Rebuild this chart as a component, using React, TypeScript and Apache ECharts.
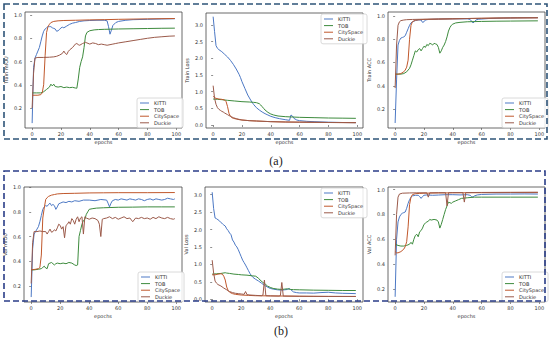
import React, { useEffect, useRef } from "react";
import * as echarts from "echarts";

type P = [number, number][];

const seriesNames = ["KITTI", "TOB", "CitySpace", "Duckie"];
const xTicks = [0, 20, 40, 60, 80, 100];
const accTicks = [0.2, 0.4, 0.6, 0.8, 1.0];
const lossTicks = [0.0, 0.5, 1.0, 1.5, 2.0, 2.5, 3.0];
const panelYNames = ["Train mIOU", "Train Loss", "Train ACC", "Val mIOU", "Val Loss", "Val ACC"];
const captions = ["(a)", "(b)"];

// ---------- Train mIoU ----------
const trainMiouKITTI: P = [[0,0.07],[1,0.55],[2,0.63],[3,0.66],[4,0.69],[5,0.72],[6,0.77],[7,0.82],[8,0.86],[9,0.88],[10,0.89],[11,0.9],[12,0.9],[13,0.9],[14,0.89],[15,0.885],[16,0.88],[17,0.86],[18,0.865],[19,0.875],[20,0.89],[21,0.895],[22,0.89],[24,0.905],[26,0.92],[28,0.93],[30,0.935],[33,0.945],[36,0.95],[40,0.953],[45,0.955],[50,0.955],[52,0.95],[53,0.9],[54,0.835],[55,0.87],[56,0.91],[58,0.935],[60,0.945],[65,0.955],[70,0.96],[80,0.963],[90,0.966],[99,0.968]];
const trainMiouTOB: P = [[0,0.33],[3,0.33],[6,0.33],[8,0.34],[10,0.36],[12,0.38],[13,0.405],[14,0.39],[15,0.405],[16,0.385],[18,0.38],[20,0.385],[22,0.375],[24,0.38],[26,0.375],[28,0.378],[30,0.372],[31,0.37],[32,0.45],[33,0.55],[34,0.6],[35,0.64],[36,0.72],[37,0.82],[38,0.85],[40,0.865],[43,0.872],[46,0.875],[50,0.877],[60,0.88],[70,0.882],[80,0.884],[90,0.886],[99,0.887]];
const trainMiouCity: P = [[0,0.31],[2,0.31],[4,0.31],[6,0.315],[7,0.33],[8,0.4],[9,0.65],[10,0.85],[11,0.9],[12,0.92],[13,0.935],[15,0.945],[18,0.95],[22,0.953],[30,0.955],[40,0.958],[50,0.96],[60,0.963],[70,0.965],[80,0.967],[99,0.97]];
const trainMiouDuckie: P = [[0,0.2],[1,0.5],[2,0.63],[4,0.635],[8,0.635],[12,0.637],[15,0.64],[17,0.645],[19,0.655],[21,0.67],[22,0.69],[23,0.67],[24,0.66],[25,0.685],[26,0.7],[28,0.72],[30,0.75],[31,0.755],[32,0.745],[33,0.74],[35,0.755],[37,0.765],[38,0.76],[40,0.75],[42,0.76],[44,0.755],[46,0.745],[48,0.75],[50,0.745],[52,0.74],[54,0.745],[56,0.75],[58,0.755],[60,0.76],[65,0.77],[70,0.78],[75,0.79],[80,0.8],[85,0.808],[90,0.813],[95,0.818],[99,0.82]];

// ---------- Train Loss ----------
const trainLossKITTI: P = [[0,3.25],[1,2.8],[2,2.38],[3,2.3],[4,2.26],[6,2.2],[8,2.12],[10,2.04],[12,1.94],[14,1.82],[16,1.68],[18,1.52],[19,1.42],[20,1.3],[22,1.1],[24,0.9],[26,0.75],[28,0.62],[30,0.52],[32,0.45],[34,0.39],[36,0.34],[38,0.3],[40,0.26],[43,0.22],[46,0.19],[50,0.16],[53,0.14],[54,0.3],[55,0.27],[56,0.2],[58,0.15],[60,0.13],[65,0.11],[70,0.1],[80,0.085],[90,0.075],[99,0.07]];
const trainLossTOB: P = [[0,0.78],[3,0.77],[6,0.76],[10,0.74],[15,0.72],[20,0.7],[25,0.69],[28,0.68],[30,0.67],[32,0.64],[33,0.6],[34,0.55],[35,0.5],[36,0.45],[38,0.38],[40,0.33],[42,0.3],[45,0.27],[50,0.25],[55,0.24],[60,0.23],[70,0.22],[80,0.21],[90,0.205],[99,0.2]];
const trainLossCity: P = [[0,0.86],[1,0.82],[2,0.8],[4,0.78],[6,0.77],[8,0.75],[9,0.7],[10,0.55],[11,0.35],[12,0.26],[13,0.22],[14,0.2],[16,0.18],[18,0.16],[20,0.15],[25,0.13],[30,0.12],[40,0.1],[50,0.09],[60,0.085],[70,0.08],[80,0.075],[99,0.07]];
const trainLossDuckie: P = [[0,1.18],[1,0.8],[2,0.62],[3,0.52],[4,0.47],[5,0.44],[6,0.41],[7,0.39],[8,0.36],[10,0.31],[12,0.26],[14,0.22],[16,0.19],[18,0.17],[20,0.15],[25,0.13],[30,0.12],[40,0.1],[50,0.09],[60,0.085],[70,0.08],[80,0.075],[99,0.07]];

// ---------- Train ACC ----------
const trainAccKITTI: P = [[0,0.08],[1,0.45],[2,0.75],[3,0.79],[4,0.81],[5,0.815],[6,0.82],[7,0.83],[8,0.86],[9,0.89],[10,0.92],[11,0.94],[12,0.95],[14,0.96],[16,0.965],[18,0.965],[19,0.945],[20,0.95],[21,0.965],[23,0.97],[30,0.973],[40,0.975],[50,0.975],[52,0.97],[53,0.955],[54,0.94],[55,0.95],[56,0.965],[58,0.972],[65,0.978],[75,0.982],[85,0.984],[99,0.985]];
const trainAccTOB: P = [[0,0.5],[2,0.5],[4,0.5],[6,0.505],[8,0.52],[10,0.55],[11,0.58],[12,0.62],[13,0.66],[14,0.7],[15,0.69],[16,0.71],[17,0.72],[18,0.7],[19,0.72],[20,0.74],[21,0.73],[22,0.755],[23,0.745],[24,0.765],[25,0.76],[26,0.75],[27,0.765],[28,0.76],[29,0.755],[30,0.73],[31,0.68],[32,0.7],[33,0.73],[34,0.75],[35,0.78],[36,0.82],[37,0.87],[38,0.9],[39,0.92],[40,0.93],[42,0.94],[45,0.945],[50,0.95],[60,0.953],[70,0.955],[80,0.956],[99,0.958]];
const trainAccCity: P = [[0,0.5],[2,0.5],[4,0.505],[6,0.52],[7,0.535],[8,0.56],[9,0.62],[10,0.8],[11,0.92],[12,0.95],[14,0.963],[17,0.968],[20,0.97],[30,0.973],[40,0.975],[50,0.978],[60,0.98],[70,0.982],[80,0.983],[99,0.984]];
const trainAccDuckie: P = [[0,0.38],[1,0.75],[2,0.92],[3,0.95],[4,0.96],[6,0.965],[8,0.968],[12,0.97],[20,0.972],[30,0.974],[40,0.976],[50,0.978],[60,0.98],[70,0.982],[80,0.983],[99,0.985]];

// ---------- Val mIoU ----------
const valMiouKITTI: P = [[0,0.11],[1,0.5],[2,0.62],[3,0.64],[4,0.66],[5,0.68],[6,0.72],[7,0.77],[8,0.82],[9,0.84],[10,0.85],[11,0.845],[12,0.86],[13,0.87],[14,0.85],[15,0.86],[16,0.85],[17,0.82],[18,0.84],[19,0.865],[20,0.87],[22,0.88],[24,0.875],[26,0.885],[28,0.88],[30,0.89],[33,0.885],[36,0.895],[40,0.895],[44,0.89],[48,0.9],[52,0.895],[53,0.87],[54,0.84],[55,0.87],[56,0.89],[58,0.9],[60,0.895],[62,0.905],[64,0.9],[66,0.895],[68,0.905],[70,0.9],[72,0.895],[74,0.905],[76,0.9],[78,0.89],[80,0.9],[82,0.905],[84,0.895],[86,0.905],[88,0.9],[90,0.895],[92,0.9],[94,0.91],[96,0.905],[98,0.9],[99,0.905]];
const valMiouTOB: P = [[0,0.33],[2,0.33],[5,0.335],[7,0.34],[8,0.35],[9,0.36],[10,0.345],[11,0.34],[12,0.38],[13,0.385],[14,0.39],[15,0.38],[16,0.37],[17,0.38],[18,0.385],[20,0.38],[22,0.385],[24,0.38],[26,0.39],[28,0.385],[30,0.37],[31,0.365],[32,0.37],[33,0.6],[34,0.65],[35,0.7],[36,0.73],[37,0.74],[38,0.78],[39,0.8],[40,0.82],[42,0.825],[45,0.83],[50,0.833],[55,0.835],[60,0.837],[70,0.838],[80,0.84],[90,0.84],[99,0.84]];
const valMiouCity: P = [[0,0.33],[3,0.335],[5,0.34],[6,0.35],[7,0.45],[8,0.75],[9,0.83],[10,0.9],[11,0.915],[12,0.925],[14,0.935],[16,0.94],[18,0.945],[22,0.948],[30,0.95],[40,0.953],[50,0.954],[60,0.955],[80,0.955],[99,0.956]];
const valMiouDuckie: P = [[0,0.22],[1,0.55],[2,0.64],[4,0.64],[6,0.645],[8,0.64],[10,0.64],[11,0.62],[12,0.64],[13,0.66],[14,0.635],[15,0.64],[16,0.655],[17,0.645],[18,0.67],[19,0.7],[20,0.69],[21,0.66],[22,0.68],[23,0.59],[24,0.69],[25,0.7],[26,0.72],[27,0.7],[28,0.745],[29,0.73],[30,0.7],[31,0.74],[32,0.76],[33,0.72],[34,0.75],[35,0.76],[36,0.62],[37,0.76],[38,0.75],[40,0.74],[42,0.75],[44,0.745],[46,0.73],[47,0.7],[48,0.6],[49,0.74],[50,0.745],[52,0.75],[54,0.76],[56,0.745],[58,0.755],[60,0.74],[62,0.75],[64,0.76],[66,0.745],[68,0.75],[70,0.72],[72,0.75],[74,0.745],[76,0.755],[78,0.745],[80,0.75],[82,0.74],[84,0.755],[86,0.745],[88,0.76],[90,0.75],[92,0.745],[94,0.755],[96,0.745],[98,0.74],[99,0.745]];

// ---------- Val Loss ----------
const valLossKITTI: P = [[0,3.07],[1,2.6],[2,2.33],[3,2.31],[4,2.28],[5,2.25],[6,2.2],[7,2.17],[8,2.13],[9,2.1],[10,2.02],[11,1.97],[12,1.9],[13,1.85],[14,1.7],[15,1.64],[16,1.55],[17,1.5],[18,1.42],[19,1.32],[20,1.22],[21,1.12],[22,1.05],[23,0.98],[24,0.9],[25,0.82],[26,0.74],[27,0.68],[28,0.63],[30,0.57],[32,0.52],[34,0.46],[36,0.4],[38,0.35],[40,0.31],[42,0.29],[45,0.27],[48,0.26],[50,0.27],[52,0.28],[53,0.31],[54,0.28],[56,0.21],[58,0.19],[60,0.18],[65,0.18],[70,0.175],[75,0.19],[80,0.2],[85,0.18],[90,0.17],[95,0.165],[99,0.16]];
const valLossTOB: P = [[0,0.72],[3,0.73],[6,0.74],[9,0.76],[10,0.75],[12,0.74],[15,0.72],[18,0.71],[20,0.7],[24,0.69],[28,0.67],[30,0.66],[32,0.6],[33,0.55],[35,0.48],[37,0.42],[38,0.38],[40,0.34],[42,0.31],[45,0.29],[48,0.28],[50,0.29],[52,0.3],[54,0.28],[56,0.275],[60,0.27],[70,0.26],[80,0.255],[90,0.25],[99,0.25]];
const valLossCity: P = [[0,0.7],[2,0.7],[4,0.72],[6,0.73],[7,0.72],[8,0.66],[9,0.55],[10,0.35],[11,0.25],[12,0.2],[14,0.16],[16,0.14],[20,0.12],[25,0.11],[30,0.1],[40,0.095],[50,0.09],[60,0.085],[80,0.08],[99,0.08]];
const valLossDuckie: P = [[0,1.12],[1,0.75],[2,0.52],[3,0.46],[4,0.42],[6,0.38],[8,0.32],[10,0.27],[12,0.22],[14,0.19],[16,0.17],[18,0.16],[20,0.15],[22,0.14],[23,0.22],[24,0.13],[26,0.12],[30,0.11],[34,0.1],[35,0.12],[36,0.55],[37,0.1],[40,0.095],[46,0.09],[47,0.1],[48,0.48],[49,0.09],[55,0.088],[60,0.085],[70,0.082],[80,0.08],[99,0.078]];

// ---------- Val ACC ----------
const valAccKITTI: P = [[0,0.135],[1,0.6],[2,0.74],[3,0.78],[4,0.8],[5,0.81],[6,0.815],[7,0.82],[8,0.85],[9,0.89],[10,0.92],[11,0.94],[12,0.95],[14,0.955],[16,0.955],[17,0.945],[18,0.93],[19,0.945],[20,0.955],[22,0.958],[26,0.955],[30,0.957],[35,0.96],[40,0.96],[45,0.958],[50,0.96],[52,0.955],[53,0.945],[54,0.94],[55,0.95],[57,0.958],[60,0.962],[70,0.965],[80,0.965],[90,0.966],[99,0.965]];
const valAccTOB: P = [[0,0.56],[2,0.55],[4,0.545],[6,0.545],[8,0.55],[10,0.56],[11,0.575],[12,0.56],[13,0.6],[14,0.63],[15,0.64],[16,0.62],[17,0.66],[18,0.67],[19,0.69],[20,0.72],[21,0.73],[22,0.74],[23,0.745],[24,0.76],[25,0.755],[27,0.76],[29,0.755],[30,0.74],[31,0.69],[32,0.72],[33,0.76],[34,0.8],[35,0.84],[36,0.87],[37,0.9],[38,0.895],[39,0.89],[40,0.9],[42,0.91],[44,0.92],[46,0.93],[50,0.935],[55,0.94],[60,0.94],[80,0.94],[99,0.94]];
const valAccCity: P = [[0,0.5],[1,0.49],[2,0.49],[4,0.5],[6,0.52],[7,0.54],[8,0.58],[9,0.7],[10,0.88],[11,0.94],[12,0.96],[14,0.968],[17,0.97],[20,0.972],[30,0.974],[40,0.975],[60,0.976],[80,0.977],[99,0.977]];
const valAccDuckie: P = [[0,0.47],[1,0.8],[2,0.94],[3,0.965],[5,0.972],[10,0.974],[15,0.975],[20,0.975],[22,0.975],[23,0.94],[24,0.975],[30,0.976],[35,0.976],[36,0.87],[37,0.976],[40,0.977],[47,0.977],[48,0.9],[49,0.977],[60,0.978],[80,0.979],[99,0.98]];

const panelData: P[][] = [
  [trainMiouKITTI, trainMiouTOB, trainMiouCity, trainMiouDuckie],
  [trainLossKITTI, trainLossTOB, trainLossCity, trainLossDuckie],
  [trainAccKITTI, trainAccTOB, trainAccCity, trainAccDuckie],
  [valMiouKITTI, valMiouTOB, valMiouCity, valMiouDuckie],
  [valLossKITTI, valLossTOB, valLossCity, valLossDuckie],
  [valAccKITTI, valAccTOB, valAccCity, valAccDuckie],
];

const COLORS = ["#4c78c4", "#3d8b3d", "#c0582c", "#9b5a4a"];
const FONT = "DejaVu Sans";

// layout (pixels)
const panels = [
  { left: 25, top: 12, width: 157, height: 116, yMin: 0.028, yMax: 1.026, ticks: accTicks, legend: { left: 137, top: 98 } },
  { left: 206, top: 13, width: 157, height: 115, yMin: -0.09, yMax: 3.36, ticks: lossTicks, legend: { left: 321, top: 14 } },
  { left: 388, top: 12, width: 157, height: 116, yMin: 0.037, yMax: 1.034, ticks: accTicks, legend: { left: 502, top: 98 } },
  { left: 24, top: 187, width: 158, height: 115, yMin: 0.07, yMax: 1.001, ticks: accTicks, legend: { left: 138, top: 272 } },
  { left: 205, top: 187, width: 158, height: 115, yMin: -0.08, yMax: 3.22, ticks: lossTicks, legend: { left: 321, top: 188 } },
  { left: 388, top: 187, width: 157, height: 115, yMin: 0.093, yMax: 1.022, ticks: accTicks, legend: { left: 502, top: 272 } },
];

export default function App() {
  const ref = useRef<HTMLDivElement>(null);
  useEffect(() => {
    document.body.style.margin = "0";
    const chart = echarts.init(ref.current!, undefined, { renderer: "svg" });
    const grid: any[] = [];
    const xAxis: any[] = [];
    const yAxis: any[] = [];
    const series: any[] = [];
    const legend: any[] = [];
    panels.forEach((p, i) => {
      grid.push({
        left: p.left, top: p.top, width: p.width, height: p.height,
        show: true, borderColor: "#444", borderWidth: 0.8, backgroundColor: "#fff",
      });
      xAxis.push({
        type: "value", gridIndex: i, min: -4.95, max: 103.95,
        name: "epochs", nameLocation: "middle", nameGap: 11,
        nameTextStyle: { fontSize: 5, color: "#333", fontFamily: FONT },
        axisLine: { show: false },
        splitLine: { show: false },
        axisTick: { show: true, length: 2, lineStyle: { color: "#444", width: 0.6 }, customValues: xTicks },
        axisLabel: { fontSize: 5, color: "#333", margin: 3, fontFamily: FONT, customValues: xTicks, formatter: (v: number) => String(v) },
      });
      yAxis.push({
        type: "value", gridIndex: i, min: p.yMin, max: p.yMax,
        name: panelYNames[i], nameLocation: "middle", nameGap: 17, nameRotate: 90,
        nameTextStyle: { fontSize: 5, color: "#333", fontFamily: FONT },
        axisLine: { show: false },
        splitLine: { show: false },
        axisTick: { show: true, length: 2, lineStyle: { color: "#444", width: 0.6 }, customValues: p.ticks },
        axisLabel: { fontSize: 5, color: "#333", margin: 3, fontFamily: FONT, customValues: p.ticks, formatter: (v: number) => v.toFixed(1) },
      });
      panelData[i].forEach((d, k) => {
        series.push({
          type: "line", name: seriesNames[k], xAxisIndex: i, yAxisIndex: i,
          data: d, showSymbol: false, symbol: "none",
          lineStyle: { width: 1, color: COLORS[k] }, itemStyle: { color: COLORS[k] },
          z: 2,
        });
      });
      legend.push({
        data: seriesNames, orient: "vertical", left: p.legend.left, top: p.legend.top,
        icon: "rect", itemWidth: 9, itemHeight: 1, itemGap: 0.6,
        padding: [2, 4, 2, 3], borderColor: "#d0d0d0", borderWidth: 0.8, borderRadius: 2,
        backgroundColor: "rgba(255,255,255,0.85)",
        textStyle: { fontSize: 5, color: "#333", fontFamily: FONT, lineHeight: 6, height: 6 },
        selectedMode: false,
      });
    });

    const dash = { fill: "none", lineWidth: 1.6, lineDash: [6, 3] };
    chart.setOption({
      animation: false,
      backgroundColor: "#fff",
      grid, xAxis, yAxis, series, legend,
      graphic: [
        { type: "rect", shape: { x: 4, y: 4, width: 543, height: 135 }, style: { ...dash, stroke: "#2e5478" }, z: 100, silent: true },
        { type: "rect", shape: { x: 4, y: 171, width: 541, height: 130 }, style: { ...dash, stroke: "#2a3d88" }, z: 100, silent: true },
        { type: "text", x: 276, y: 161, style: { text: captions[0], font: "12px 'Liberation Serif'", fill: "#222", align: "center", verticalAlign: "middle" }, z: 100 },
        { type: "text", x: 281, y: 331, style: { text: captions[1], font: "12px 'Liberation Serif'", fill: "#222", align: "center", verticalAlign: "middle" }, z: 100 },
      ],
    });
    return () => chart.dispose();
  }, []);
  return <div ref={ref} style={{ position: "absolute", left: 0, top: 0, width: 550, height: 344 }} />;
}
